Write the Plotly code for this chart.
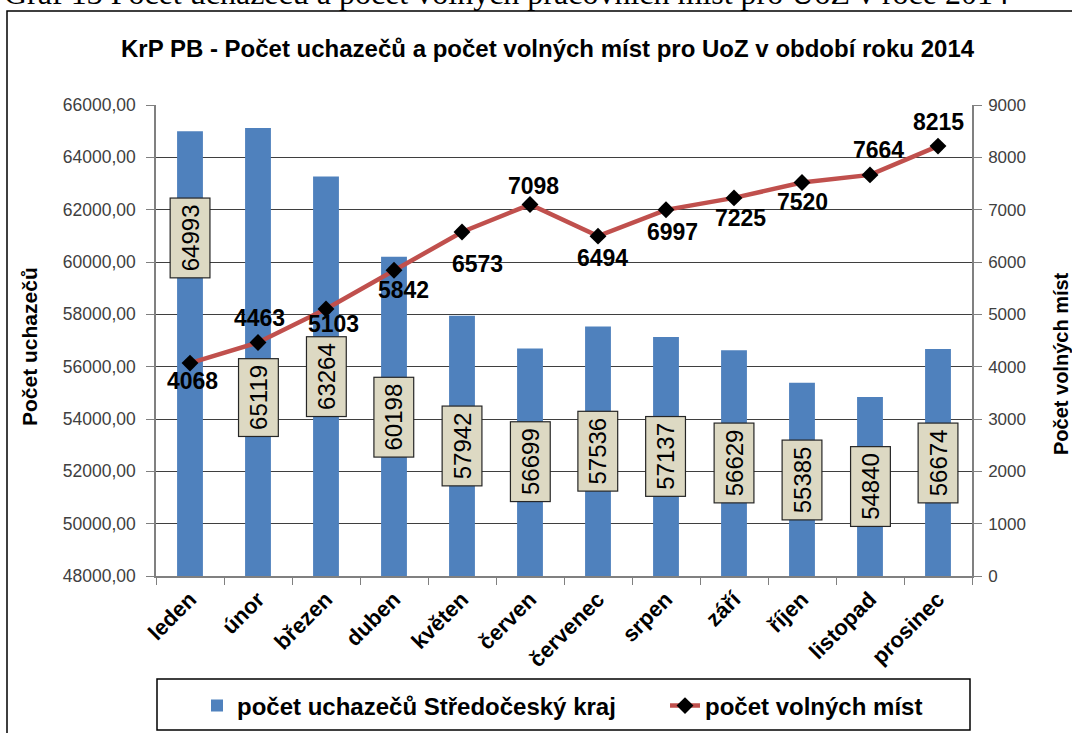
import plotly.graph_objects as go

# data
months = ['leden', 'únor', 'březen', 'duben', 'květen', 'červen',
          'červenec', 'srpen', 'září', 'říjen', 'listopad', 'prosinec']
uchazeci = [64993, 65119, 63264, 60198, 57942, 56699,
            57536, 57137, 56629, 55385, 54840, 56674]
volna_mista = [4068, 4463, 5103, 5842, 6573, 7098,
               6494, 6997, 7225, 7520, 7664, 8215]

# label placement (style only)
box_label_y = [60900, 54800, 55600, 54050, 52950, 52350,
               52750, 52550, 52300, 51650, 51400, 52300]
line_label_shift = [(2, -18), (1, 24), (7, -15), (9, -20), (15, -32), (3, 19),
                    (4, -22), (6, -22), (6, -20), (0, -20), (8, 25), (0, 24)]

FONT = 'Liberation Sans'
W, H = 1072, 733
L, R, T, B = 156, 100, 105, 157
PW, PH = W - L - R, H - T - B


def px_x(x):
    return (x - L) / PW


def px_y(y):
    return (H - B - y) / PH


fig = go.Figure()
fig.add_trace(go.Bar(
    x=months, y=uchazeci, name='počet uchazečů Středočeský kraj',
    marker=dict(color='#4F81BD', line=dict(width=0)),
    yaxis='y', legend='legend',
))
fig.add_trace(go.Scatter(
    x=months, y=volna_mista, name='počet volných míst',
    mode='lines+markers', yaxis='y2', legend='legend2',
    line=dict(color='#C0504D', width=4.5),
    marker=dict(symbol='diamond', color='black', size=13),
))

annotations = []
for m, v, ly in zip(months, uchazeci, box_label_y):
    annotations.append(dict(
        x=m, y=ly, xref='x', yref='y', text=str(v), showarrow=False,
        textangle=-90, font=dict(family=FONT, size=24, color='black'),
        bgcolor='#DDD9C3', bordercolor='#262626', borderwidth=1.2, borderpad=6,
    ))
for m, v, (dx, dy) in zip(months, volna_mista, line_label_shift):
    annotations.append(dict(
        x=m, y=v, xref='x', yref='y2', text=f'<b>{v}</b>', showarrow=False,
        xshift=dx, yshift=dy, font=dict(family=FONT, size=23, color='black'),
    ))

# chart title
annotations.append(dict(
    x=px_x(548), y=px_y(48), xref='paper', yref='paper',
    text='<b>KrP PB - Počet uchazečů a počet volných míst pro UoZ v období roku 2014</b>',
    showarrow=False, xanchor='center', yanchor='middle',
    font=dict(family=FONT, size=24, color='black'),
))
# axis titles
annotations.append(dict(
    x=px_x(29), y=px_y(347), xref='paper', yref='paper',
    xanchor='center', yanchor='middle',
    text='<b>Počet uchazečů</b>', showarrow=False, textangle=-90,
    font=dict(family=FONT, size=21, color='black'),
))
annotations.append(dict(
    x=px_x(1061), y=px_y(364), xref='paper', yref='paper',
    xanchor='center', yanchor='middle',
    text='<b>Počet volných míst</b>', showarrow=False, textangle=-90,
    font=dict(family=FONT, size=20, color='black'),
))
# document caption, cut off at the top
annotations.append(dict(
    x=px_x(2), y=px_y(-7), xref='paper', yref='paper', xanchor='left', yanchor='middle',
    text='Graf 13 Počet uchazečů a počet volných pracovních míst pro UoZ v roce 2014',
    showarrow=False, font=dict(family='Liberation Serif', size=32, color='black'),
))

shapes = [
    # outer frame
    dict(type='rect', xref='paper', yref='paper',
         x0=px_x(7), x1=px_x(1085), y0=px_y(745), y1=px_y(11),
         line=dict(color='black', width=1.5), layer='below'),
    # legend frame
    dict(type='rect', xref='paper', yref='paper',
         x0=px_x(157), x1=px_x(970), y0=px_y(730), y1=px_y(679),
         line=dict(color='black', width=1.5)),
]

legend_font = dict(family=FONT, size=24, color='black', weight='bold')

fig.update_layout(
    width=W, height=H,
    margin=dict(l=L, r=R, t=T, b=B, autoexpand=False),
    paper_bgcolor='white', plot_bgcolor='white',
    separators=',.',
    bargap=0.62,
    showlegend=True,
    legend=dict(
        orientation='h', x=px_x(197), y=px_y(706), xanchor='left', yanchor='middle',
        font=legend_font, itemwidth=30, bgcolor='rgba(0,0,0,0)',
    ),
    legend2=dict(
        orientation='h', x=px_x(665), y=px_y(706), xanchor='left', yanchor='middle',
        font=legend_font, itemwidth=30, bgcolor='rgba(0,0,0,0)',
    ),
    xaxis=dict(
        type='category', range=[-0.5, len(months) - 0.5],
        tickangle=-45, tickson='boundaries',
        ticks='outside', ticklen=7, tickcolor='#808080',
        showline=True, linecolor='#808080', linewidth=1.5,
        tickfont=dict(family=FONT, size=22, color='black', weight='bold'),
        showgrid=False,
    ),
    yaxis=dict(
        range=[48000, 66000], dtick=2000, tickformat='.2f',
        ticks='outside', ticklen=8, tickcolor='#808080',
        showline=True, linecolor='#808080', linewidth=1.5,
        showgrid=True, gridcolor='#3F3F3F', gridwidth=1,
        tickfont=dict(family=FONT, size=17.5, color='#404040'),
        ticklabelstandoff=7, zeroline=False,
    ),
    yaxis2=dict(
        range=[0, 9000], dtick=1000, tickformat='d',
        overlaying='y', side='right',
        ticks='outside', ticklen=8, tickcolor='#808080',
        showline=True, linecolor='#808080', linewidth=1.5,
        showgrid=False, zeroline=False,
        tickfont=dict(family=FONT, size=17, color='#404040'),
        ticklabelstandoff=3,
    ),
    annotations=annotations,
    shapes=shapes,
)

fig.write_html('out.html', config={'displayModeBar': False},
               post_script="document.body.style.margin='0';document.body.style.overflow='hidden';")
